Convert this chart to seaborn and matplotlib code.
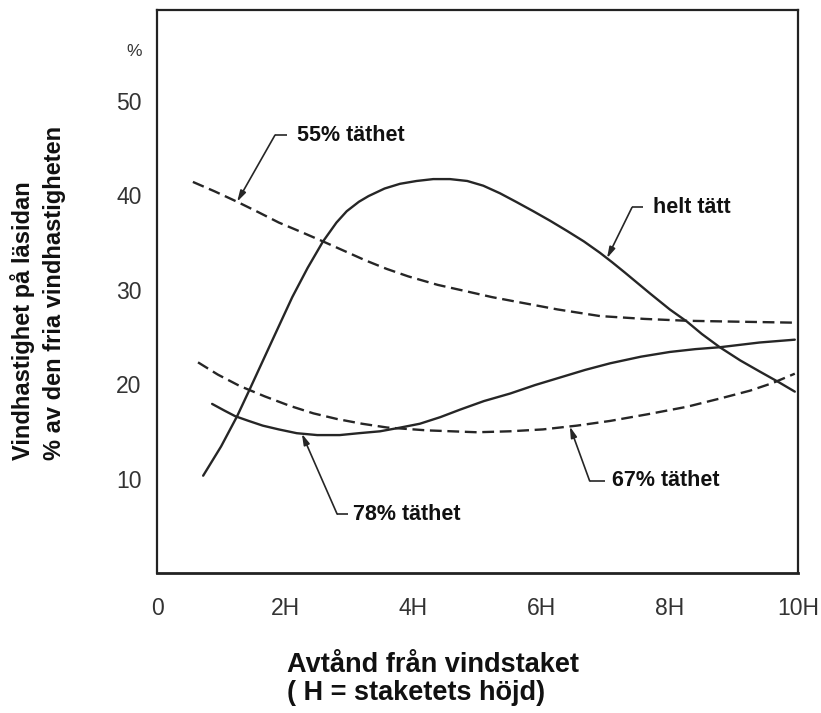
import numpy as np
import pandas as pd
import matplotlib
matplotlib.use("Agg")
import matplotlib.pyplot as plt
import seaborn as sns

# ---------------- data ----------------
helt_x = [0.72, 1.00, 1.25, 1.45, 1.81, 2.11, 2.35, 2.59, 2.80, 2.96, 3.15, 3.30, 3.55, 3.79, 4.05, 4.31,
          4.57, 4.84, 5.09, 5.35, 5.60, 5.87, 6.13, 6.40, 6.66, 6.91, 7.10, 7.30, 7.69, 8.00, 8.27, 8.50,
          8.78, 9.10, 9.41, 9.70, 9.95]
helt_y = [10.3, 13.4, 16.6, 19.5, 24.8, 29.2, 32.3, 35.1, 37.1, 38.3, 39.3, 39.9, 40.7, 41.2, 41.5, 41.7,
          41.7, 41.5, 41.0, 40.2, 39.3, 38.3, 37.3, 36.2, 35.1, 33.9, 32.9, 31.8, 29.6, 27.9, 26.6, 25.3,
          23.9, 22.5, 21.3, 20.2, 19.2]

t55_x = [0.56, 0.90, 1.25, 1.58, 1.90, 2.25, 2.59, 2.92, 3.25, 3.58, 3.92, 4.38, 4.84, 5.23, 5.62, 6.25,
         6.91, 7.60, 8.27, 9.10, 9.95]
t55_y = [41.4, 40.4, 39.3, 38.2, 37.1, 36.1, 35.1, 34.1, 33.1, 32.2, 31.4, 30.5, 29.8, 29.2, 28.7, 27.9,
         27.2, 26.9, 26.7, 26.6, 26.5]

t78_x = [0.86, 1.05, 1.22, 1.43, 1.65, 1.90, 2.18, 2.50, 2.85, 3.15, 3.48, 3.80, 4.10, 4.42, 4.73, 5.10,
         5.51, 5.90, 6.29, 6.68, 7.07, 7.55, 8.00, 8.40, 8.78, 9.40, 9.95]
t78_y = [17.9, 17.2, 16.6, 16.1, 15.6, 15.2, 14.8, 14.6, 14.6, 14.8, 15.0, 15.4, 15.8, 16.5, 17.3, 18.2,
         19.0, 19.9, 20.7, 21.5, 22.2, 22.9, 23.4, 23.7, 23.9, 24.4, 24.7]

t67_x = [0.64, 0.95, 1.29, 1.68, 2.07, 2.44, 2.81, 3.20, 3.59, 4.21, 4.99, 5.50, 6.02, 6.55, 7.07, 7.65,
         8.27, 8.80, 9.25, 9.60, 9.95]
t67_y = [22.3, 21.0, 19.8, 18.7, 17.7, 16.9, 16.3, 15.8, 15.4, 15.1, 14.9, 15.0, 15.2, 15.6, 16.1, 16.8,
         17.6, 18.5, 19.3, 20.1, 21.1]

series_names = ["helt tätt", "55% täthet", "78% täthet", "67% täthet"]

x_ticks = [0, 2, 4, 6, 8, 10]
x_tick_labels = ["0", "2H", "4H", "6H", "8H", "10H"]
y_ticks = [10, 20, 30, 40, 50, 55.4]
y_tick_labels = ["10", "20", "30", "40", "50", "%"]

x_label_lines = ["Avtånd från vindstaket", "( H = staketets höjd)"]
y_label_lines = ["Vindhastighet på läsidan", "% av den fria vindhastigheten"]

# ---------------- build table ----------------
frames = []
for name, xs, ys in [
    ("helt tätt", helt_x, helt_y),
    ("55% täthet", t55_x, t55_y),
    ("78% täthet", t78_x, t78_y),
    ("67% täthet", t67_x, t67_y),
]:
    frames.append(pd.DataFrame({"x": xs, "y": ys, "serie": name}))
df = pd.concat(frames, ignore_index=True)

# ---------------- styling ----------------
sns.set_style("white")
plt.rcParams["font.family"] = ["Liberation Sans", "DejaVu Sans"]

LINE = "#262626"
fig = plt.figure(figsize=(8.21, 7.13), dpi=100)
ax = fig.add_axes([157 / 821, 1 - 573 / 713, (798 - 157) / 821, (573 - 10) / 713])

dash_map = {
    "helt tätt": "",
    "78% täthet": "",
    "55% täthet": (5.0, 2.4),
    "67% täthet": (5.0, 2.4),
}
sns.lineplot(
    data=df, x="x", y="y", hue="serie", style="serie",
    hue_order=series_names, style_order=series_names,
    palette={n: LINE for n in series_names}, dashes=dash_map,
    estimator=None, sort=False, legend=False, linewidth=1.7, ax=ax,
)

ax.set_xlim(0, 10)
ax.set_ylim(0, 59.6)
ax.set_xticks(x_ticks)
ax.set_xticklabels(x_tick_labels)
ax.set_yticks(y_ticks)
ax.set_yticklabels(y_tick_labels)
ax.tick_params(axis="both", length=0, labelsize=16.5, labelcolor="#333333")
ax.tick_params(axis="x", pad=17)
ax.tick_params(axis="y", pad=11)
ax.get_yticklabels()[-1].set_fontsize(12.5)
ax.set_xlabel("")
ax.set_ylabel("")
for s in ax.spines.values():
    s.set_visible(True)
    s.set_color("#222222")
    s.set_linewidth(1.6)
ax.spines["bottom"].set_linewidth(2.0)

# ---------------- annotations (layout) ----------------
series_xy = {
    "helt tätt": (helt_x, helt_y),
    "55% täthet": (t55_x, t55_y),
    "78% täthet": (t78_x, t78_y),
    "67% täthet": (t67_x, t67_y),
}
# name: (tip_x on curve, elbow (x,y), horizontal end x, text (x,y))
ann = {
    "55% täthet": (1.25, (1.84, 46.35), 2.03, (2.18, 46.35)),
    "helt tätt": (7.02, (7.41, 38.7), 7.58, (7.74, 38.7)),
    "78% täthet": (2.26, (2.81, 6.24), 2.98, (3.06, 6.24)),
    "67% täthet": (6.44, (6.75, 9.74), 6.99, (7.10, 9.74)),
}
for name, (tipx, (ex, ey), hx, (tx, ty)) in ann.items():
    xs, ys = series_xy[name]
    tipy = float(np.interp(tipx, xs, ys))
    ax.plot([ex, hx], [ey, ey], color=LINE, lw=1.2, solid_capstyle="butt")
    ax.annotate("", xy=(tipx, tipy), xytext=(ex, ey),
                arrowprops=dict(arrowstyle="-|>,head_length=0.65,head_width=0.18",
                                color=LINE, lw=1.2, shrinkA=0, shrinkB=0))
    ax.text(tx, ty, name, fontsize=15.5, fontweight="bold", color="#111111",
            ha="left", va="center")

# ---------------- axis titles ----------------
fig.text(287 / 821, 1 - 665 / 713, x_label_lines[0], fontsize=19.5,
         fontweight="bold", color="#111111", ha="left", va="center")
fig.text(287 / 821, 1 - 693 / 713, x_label_lines[1], fontsize=19.5,
         fontweight="bold", color="#111111", ha="left", va="center")
fig.text(23 / 821, 1 - 460 / 713, y_label_lines[0], fontsize=17,
         fontweight="bold", color="#111111", rotation=90, ha="center", va="bottom")
fig.text(55 / 821, 1 - 460 / 713, y_label_lines[1], fontsize=17,
         fontweight="bold", color="#111111", rotation=90, ha="center", va="bottom")

fig.savefig("out.png", dpi=100, facecolor="white")
